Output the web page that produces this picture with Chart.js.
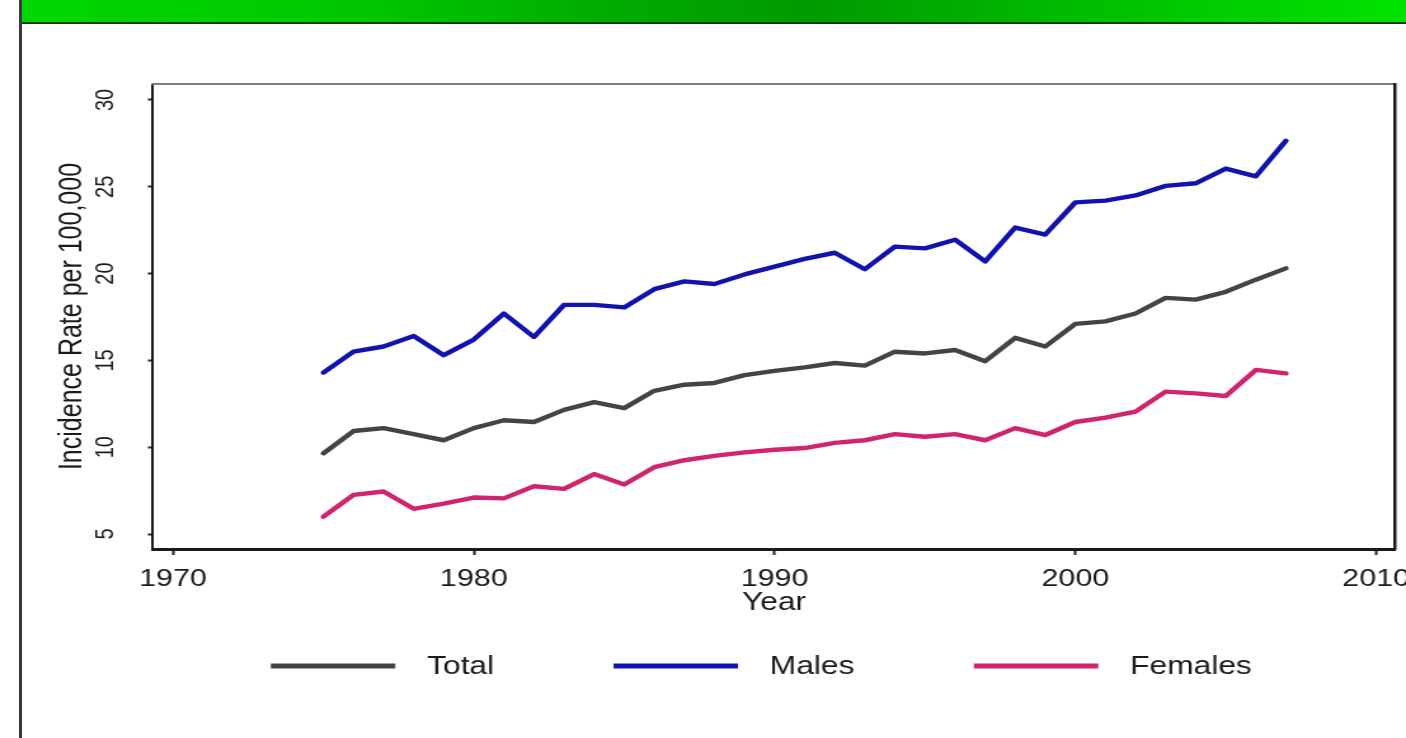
<!DOCTYPE html>
<html>
<head>
<meta charset="utf-8">
<title>Incidence Rate per 100,000 by Year</title>
<script src="https://cdn.jsdelivr.net/npm/chart.js@4.4.1/dist/chart.umd.min.js"></script>
<style>
  html, body { margin: 0; padding: 0; background: #ffffff; }
  body { width: 1406px; height: 738px; overflow: hidden; position: relative; }
  #band {
    position: absolute; left: 20px; top: 0; width: 1386px; height: 22px;
    background: linear-gradient(90deg, #00d800 0%, #00c600 25%, #00a800 45%, #009a00 57%, #00b800 74%, #00e400 100%);
    border-bottom: 2px solid #0b3d0b;
  }
  #edge {
    position: absolute; left: 19px; top: 0; width: 3px; height: 738px; background: #3a3a3a;
  }
  /* the chart is laid out narrower and widened horizontally */
  #stage {
    position: absolute; left: 0; top: 0; width: 1107px; height: 738px;
    transform: scaleX(1.2701); transform-origin: 0 0;
  }
</style>
</head>
<body>
<div id="band"></div>
<div id="edge"></div>
<div id="stage"><canvas id="chart"></canvas></div>
<script>
// Incidence rate per 100,000, 1975-2007
const years = [1975, 1976, 1977, 1978, 1979, 1980, 1981, 1982, 1983, 1984, 1985,
               1986, 1987, 1988, 1989, 1990, 1991, 1992, 1993, 1994, 1995, 1996,
               1997, 1998, 1999, 2000, 2001, 2002, 2003, 2004, 2005, 2006, 2007];

const total = [9.65, 10.93, 11.1, 10.75, 10.4, 11.1, 11.55, 11.45, 12.15, 12.6, 12.25,
               13.25, 13.6, 13.7, 14.15, 14.4, 14.6, 14.85, 14.7, 15.5, 15.4, 15.6,
               14.95, 16.3, 15.8, 17.1, 17.25, 17.7, 18.6, 18.5, 18.95, 19.65, 20.3];

const males = [14.3, 15.5, 15.8, 16.4, 15.3, 16.2, 17.7, 16.35, 18.2, 18.2, 18.05,
               19.1, 19.55, 19.4, 19.95, 20.4, 20.85, 21.2, 20.25, 21.55, 21.45, 21.95,
               20.7, 22.65, 22.25, 24.1, 24.2, 24.5, 25.05, 25.2, 26.05, 25.6, 27.65];

const females = [6.0, 7.25, 7.45, 6.45, 6.75, 7.1, 7.05, 7.75, 7.6, 8.45, 7.85,
                 8.85, 9.25, 9.5, 9.7, 9.85, 9.95, 10.25, 10.4, 10.75, 10.6, 10.75,
                 10.4, 11.1, 10.7, 11.45, 11.7, 12.05, 13.2, 13.1, 12.95, 14.45, 14.25];

const seriesNames = ['Total', 'Males', 'Females'];

const xTickValues = [1970, 1980, 1990, 2000, 2010];
const xTickLabels = ['1970', '1980', '1990', '2000', '2010'];
const yTickValues = [5, 10, 15, 20, 25, 30];
const yTickLabels = ['5', '10', '15', '20', '25', '30'];

const FONT = '"Liberation Sans", Arial, Helvetica, sans-serif';
const INK = '#1a1a1a';

const points = (vals) => years.map((yr, i) => ({ x: yr, y: vals[i] }));

// Line legend drawn below the x axis title
const lineLegend = {
  id: 'lineLegend',
  afterDraw(chart) {
    const { ctx, chartArea } = chart;
    const lineLen = 98, textGap = 25, itemGap = 94;
    ctx.save();
    ctx.font = '25px ' + FONT;
    const items = chart.data.datasets.map(ds => ({
      label: ds.label, color: ds.borderColor, w: ctx.measureText(ds.label).width
    }));
    const width = items.reduce((s, it) => s + lineLen + textGap + it.w, 0) + itemGap * (items.length - 1);
    let x = (chartArea.left + chartArea.right) / 2 - 10 - width / 2;
    const y = chartArea.bottom + 117;
    ctx.textBaseline = 'middle';
    ctx.textAlign = 'left';
    items.forEach(it => {
      ctx.strokeStyle = it.color;
      ctx.lineWidth = 5;
      ctx.lineCap = 'butt';
      ctx.beginPath();
      ctx.moveTo(x, y);
      ctx.lineTo(x + lineLen, y);
      ctx.stroke();
      ctx.fillStyle = INK;
      ctx.fillText(it.label, x + lineLen + textGap, y + 1);
      x += lineLen + textGap + it.w + itemGap;
    });
    ctx.restore();
  }
};

const lineStyle = { borderWidth: 4.4, pointRadius: 0, tension: 0, borderJoinStyle: 'round', borderCapStyle: 'round', fill: false };

new Chart(document.getElementById('chart'), {
  type: 'line',
  data: {
    datasets: [
      Object.assign({ label: seriesNames[0], data: points(total),   borderColor: '#444444' }, lineStyle),
      Object.assign({ label: seriesNames[1], data: points(males),   borderColor: '#1212b0' }, lineStyle),
      Object.assign({ label: seriesNames[2], data: points(females), borderColor: '#d0246e' }, lineStyle)
    ]
  },
  plugins: [lineLegend],
  options: {
    responsive: true,
    maintainAspectRatio: false,
    animation: false,
    devicePixelRatio: 1,
    layout: { padding: { left: 40, right: 8.6, top: 84, bottom: 122.5 } },
    plugins: { legend: { display: false }, tooltip: { enabled: false } },
    scales: {
      x: {
        type: 'linear',
        position: 'bottom',
        min: 1969.335,
        max: 2010.63,
        afterBuildTicks: (s) => { s.ticks = xTickValues.map(v => ({ value: v })); },
        afterFit: (s) => { s.height = 66.5; s.paddingLeft = 0; s.paddingRight = 0; },
        ticks: {
          autoSkip: false, maxRotation: 0, minRotation: 0, padding: 9.6,
          color: INK, font: { family: FONT, size: 24 },
          callback: (v, i) => xTickLabels[i]
        },
        grid: { display: true, drawOnChartArea: false, drawTicks: true, tickLength: 6, tickWidth: 2, tickColor: '#222' },
        border: { display: true, color: '#1a1a1a', width: 3 },
        title: { display: true, text: 'Year', color: INK, font: { family: FONT, size: 25, lineHeight: 1 }, padding: { top: 0, bottom: 0 } }
      },
      y: {
        type: 'linear',
        position: 'left',
        min: 4.136,
        max: 30.92,
        afterBuildTicks: (s) => { s.ticks = yTickValues.map(v => ({ value: v })); },
        afterFit: (s) => { s.width = 80.47; s.paddingTop = 0; s.paddingBottom = 0; },
        ticks: {
          autoSkip: false, minRotation: 90, maxRotation: 90, crossAlign: 'center', padding: 21.8,
          color: INK, font: { family: FONT, size: 20 },
          callback: (v, i) => yTickLabels[i]
        },
        grid: { display: true, drawOnChartArea: false, drawTicks: true, tickLength: 4, tickWidth: 2, tickColor: '#222' },
        border: { display: true, color: '#1a1a1a', width: 2 },
        title: { display: true, text: 'Incidence Rate per 100,000', color: INK, font: { family: FONT, size: 25, lineHeight: 1 }, padding: { top: 5, bottom: 0 } }
      },
      xTop: {
        type: 'linear', axis: 'x', position: 'top',
        afterFit: (s) => { s.height = 0; s.paddingLeft = 0; s.paddingRight = 0; },
        ticks: { display: false },
        grid: { display: false },
        border: { display: true, color: '#7a7a7a', width: 2 }
      },
      yRight: {
        type: 'linear', axis: 'y', position: 'right',
        afterFit: (s) => { s.width = 0; s.paddingTop = 0; s.paddingBottom = 0; },
        ticks: { display: false },
        grid: { display: false },
        border: { display: true, color: '#1a1a1a', width: 2.5 }
      }
    }
  }
});
</script>
</body>
</html>
